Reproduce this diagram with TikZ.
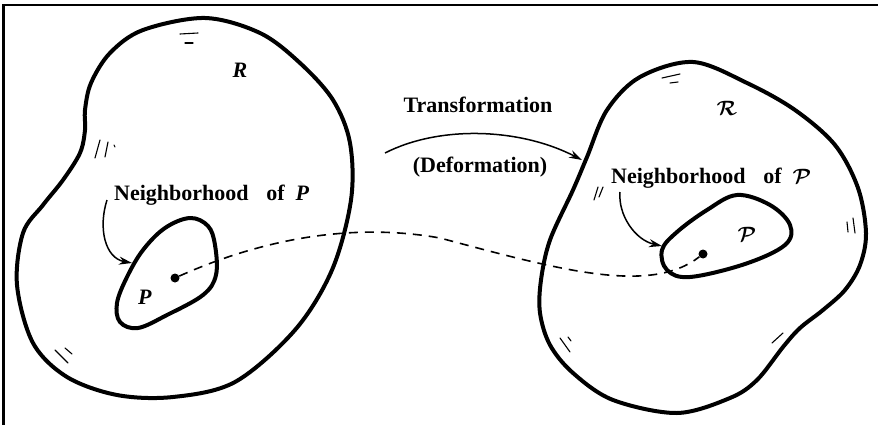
\documentclass[tikz,border=0pt]{standalone}
\usepackage{bm}
\usepackage{fontspec}
\setmainfont{Liberation Serif}
\usetikzlibrary{arrows.meta}
\newcommand{\lblfont}{\fontsize{22}{26}\selectfont\bfseries}
\tikzset{
  region/.style={line width=4pt, line join=round},
  pointer/.style={-{Stealth[length=13pt,width=8pt]}, line width=1.5pt},
  hatch/.style={line width=1.1pt, line cap=round},
  dot/.style={circle, fill, inner sep=0pt, minimum size=9pt},
  lbl/.style={font=\lblfont, inner sep=1pt}
}
\begin{document}
\begin{tikzpicture}[x=1pt,y=-1pt]
    \useasboundingbox (0,0) rectangle (878,425);
    \draw[line width=3pt] (3.5,425) -- (3.5,5); \draw[line width=2pt] (2,5) -- (878,5);
    % region R
    \draw[region] plot[smooth cycle, tension=0.55] coordinates {(205,18) (260,33) (300,63) (333,100) (350,143) (351,200) (332,270) (295,330) (235,382) (173,397) (117,395) (67,377) (33,343) (17,285) (23,233) (43,205) (63,180) (80,153) (85,130) (85,110) (91,83) (110,53) (143,30)};
    \draw[region] plot[smooth cycle, tension=0.6] coordinates {(190,218) (208,226) (215,245) (216,275) (203,295) (167,315) (138,328) (120,322) (117,303) (127,277) (143,250) (165,228)};
    \draw[hatch] (180,34) -- (198,33); \draw[hatch] (185,43) -- (193,43);
    \draw[hatch] (95,158) -- (100,140); \draw[hatch] (105,157) -- (108,142); \draw[hatch] (114,145) -- (115,147);
    \draw[hatch] (55,350) -- (68,363); \draw[hatch] (65,348) -- (72,354);
    % region script R
    \draw[region] plot[smooth cycle, tension=0.55] coordinates {(693,62) (747,83) (795,110) (835,145) (858,188) (866,233) (860,265) (845,290) (823,310) (800,328) (783,347) (757,380) (730,398) (677,413) (613,400) (573,373) (550,345) (540,313) (541,280) (550,240) (573,190) (587,157) (607,110) (640,77)};
    \draw[region] plot[smooth cycle, tension=0.6] coordinates {(737,195) (770,205) (790,225) (785,245) (745,264) (690,277) (667,270) (662,250) (677,232) (707,210)};
    \draw[hatch] (662,78) -- (680,74); \draw[hatch] (670,83) -- (678,82);
    \draw[hatch] (594,200) -- (598,187); \draw[hatch] (599,197) -- (603,187);
    \draw[hatch] (847,222) -- (848,232); \draw[hatch] (853,218) -- (855,233);
    \draw[hatch] (560,338) -- (570,352); \draw[hatch] (568,337) -- (571,341);
    \draw[hatch] (772,343) -- (783,333);
    % labels
    \node[lbl] (labR) at (240,70) {\textit{R}};
    \node[lbl] (labP) at (145,297) {\textit{P}};
    \node[lbl] (labRR) at (727,108) {$\bm{\mathcal{R}}$};
    \node[lbl] (labPP) at (747,234) {$\bm{\mathcal{P}}$};
    \node[lbl, anchor=base west] (nbP) at (113,200) {Neighborhood\hspace{0.8em}of\hspace{0.5em}\textit{P}};
    \node[lbl, anchor=base west] (nbPP) at (610,183) {Neighborhood\hspace{0.8em}of\hspace{0.5em}$\bm{\mathcal{P}}$};
    \node[lbl, anchor=base] (trans) at (478,113) {Transformation};
    \node[lbl, anchor=base] (deform) at (480,172) {(Deformation)};
    \node[dot] (p) at (175,278) {}; \node[dot] (pp) at (703,254) {};
    % arrows
    \coordinate (tA) at (385,153); \coordinate (tB) at (582,160);
    \draw[pointer] (tA) .. controls (440,125) and (520,128) .. (tB);
    \coordinate (tipP) at (132,263); \coordinate (tipPP) at (662,246);
    \draw[pointer] ([xshift=-6pt]nbP.base west) .. controls (98,228) and (105,258) .. (tipP);
    \draw[pointer] ([xshift=10pt,yshift=-9pt]nbPP.base west) .. controls (618,215) and (635,240) .. (tipPP);
    \draw[line width=1.6pt, dash pattern=on 9pt off 7pt] (p) .. controls (260,240) and (350,222) .. (440,238) .. controls (560,270) and (650,295) .. (pp);
\end{tikzpicture}
\end{document}
